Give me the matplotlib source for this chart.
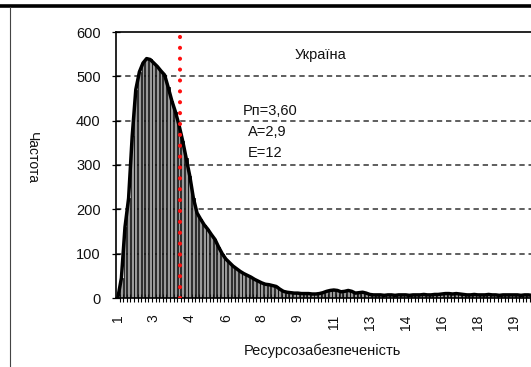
import matplotlib
matplotlib.use("Agg")
import matplotlib.pyplot as plt
from matplotlib.lines import Line2D
import numpy as np

# ---- data ----
freq = [0, 45, 160, 225, 365, 470, 510, 530, 540, 538,
        530, 522, 512, 503, 475, 445, 420, 390, 355, 315,
        275, 225, 192, 178, 165, 155, 143, 132, 115, 100,
        88, 80, 72, 66, 60, 55, 51, 47, 42, 38,
        34, 31, 30, 28, 26, 20, 15, 13, 12, 11,
        11, 10, 10, 10, 9, 9, 10, 12, 15, 17,
        18, 17, 14, 15, 17, 15, 11, 12, 13, 11,
        8, 7, 7, 7, 6, 7, 7, 6, 7, 7,
        7, 6, 7, 7, 7, 8, 7, 7, 8, 8,
        9, 10, 10, 9, 10, 9, 8, 7, 7, 8,
        7, 7, 7, 8, 7, 7, 6, 7, 7, 7,
        7, 7, 6, 7, 7, 6, 7, 7, 6, 7]
tick_every = 10
x_tick_labels = ["1", "3", "4", "6", "8", "9", "11", "13", "14", "16", "18", "19"]
pn_position = 17.3          # category position of the Pn marker line
y_ticks = [0, 100, 200, 300, 400, 500, 600]
title_text = "Україна"
stats_text = ["Рп=3,60", "А=2,9", "Е=12"]
x_label = "Ресурсозабезпеченість"
y_label = "Частота"

plt.rcParams['font.family'] = ['Liberation Sans', 'DejaVu Sans']

W, H = 531, 367
fig = plt.figure(figsize=(W / 100, H / 100), dpi=100)

n = len(freq)
cat_w = 3.6  # px per category
ax_left, ax_right_px = 116, 116 + n * cat_w
ax_top, ax_bot = 32, 298
ax = fig.add_axes([ax_left / W, 1 - ax_bot / H, (ax_right_px - ax_left) / W, (ax_bot - ax_top) / H])

idx = np.arange(n)
ax.set_xlim(-0.5, n - 0.5)
ax.set_ylim(0, 600)

# gridlines
for v in y_ticks[1:-1]:
    ax.axhline(v, color='#333333', lw=1.1, ls=(0, (3.5, 2.5)), zorder=1)

ax.bar(idx, freq, width=0.78, color='#9a9a9a', edgecolor='black', linewidth=0.55, zorder=2)
ax.plot(idx, freq, color='black', lw=2.5, solid_joinstyle='round', zorder=3)

ax.axvline(pn_position, color='#ff1010', lw=3.0, ls=(0, (0.01, 2.6)),
           dash_capstyle='round', zorder=4)

# axes styling
for s in ['left', 'bottom', 'top']:
    ax.spines[s].set_color('black')
    ax.spines[s].set_linewidth(1.2)
ax.spines['right'].set_visible(False)

txt_col = '#111111'
ax.set_yticks(y_ticks)
ax.set_yticklabels([str(v) for v in y_ticks], fontsize=10.5, color=txt_col)
ax.tick_params(axis='y', direction='inout', length=6, width=0.9, pad=8)

major_pos = [i * tick_every for i in range(len(x_tick_labels))]
ax.set_xticks(major_pos)
ax.set_xticklabels(x_tick_labels, rotation=90, fontsize=10, color=txt_col)
ax.tick_params(axis='x', which='major', length=0, pad=12)
ax.set_xticks(np.arange(n) + 0.5, minor=True)
ax.tick_params(axis='x', which='minor', direction='inout', length=6, width=0.8)

# texts
fig.text(320 / W, 1 - 55 / H, title_text, ha='center', va='center', fontsize=10.5, color=txt_col)
fig.text(243 / W, 1 - 111 / H, stats_text[0], ha='left', va='center', fontsize=10.5, color=txt_col)
fig.text(248 / W, 1 - 132 / H, stats_text[1], ha='left', va='center', fontsize=10.5, color=txt_col)
fig.text(248 / W, 1 - 153 / H, stats_text[2], ha='left', va='center', fontsize=10.5, color=txt_col)
fig.text(322 / W, 1 - 351 / H, x_label, ha='center', va='center', fontsize=10.5, color=txt_col)
fig.text(32 / W, 1 - 158 / H, y_label, ha='center', va='center', rotation=-90, fontsize=10, color=txt_col)

# frame decorations
fig.add_artist(Line2D([0, 1], [1 - 6 / H] * 2, color='black', lw=2.6))
fig.add_artist(Line2D([10 / W] * 2, [0, 1 - 7 / H], color='#444444', lw=0.8))

fig.savefig('out.png', dpi=100)
